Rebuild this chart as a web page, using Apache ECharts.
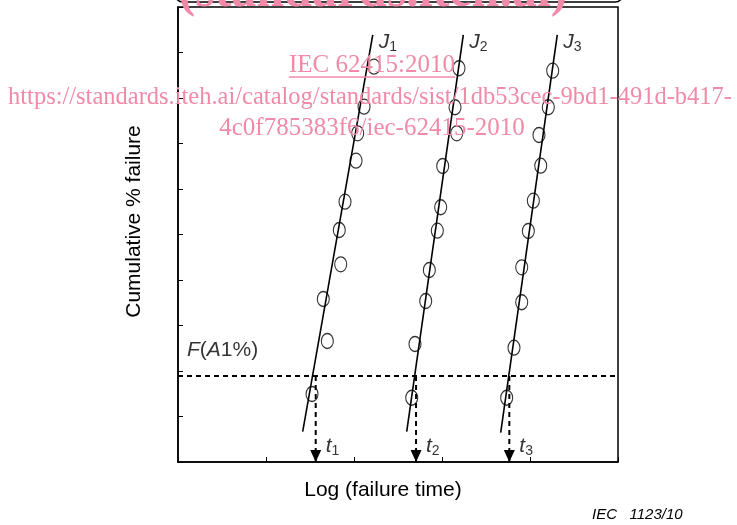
<!DOCTYPE html>
<html>
<head>
<meta charset="utf-8">
<script src="https://cdn.jsdelivr.net/npm/echarts@6/dist/echarts.min.js"></script>
<style>
  html, body { margin: 0; padding: 0; background: #fff; }
  #chart { width: 737px; height: 525px; }
</style>
</head>
<body>
<div id="chart"></div>
<script>
// axis ranges (ticks only, no numbers shown)
const xRange = [0, 5]
const yRange = [0, 10]

// fitted lines J1..J3: [bottom, top] end points
const lineNames = ['1', '2', '3']
const lineEnds = [
  [[1.417, 0.666], [2.213, 9.385]],
  [[2.599, 0.666], [3.242, 9.385]],
  [[3.667, 0.644], [4.310, 9.385]]
]

// observed points for each group
const j1Points = [[2.227, 8.688], [2.114, 7.809], [2.042, 7.224], [2.023, 6.622], [1.898, 5.721],
  [1.833, 5.099], [1.849, 4.345], [1.651, 3.582], [1.697, 2.659], [1.523, 1.495]]
const j2Points = [[3.193, 8.653], [3.148, 7.796], [3.167, 7.224], [3.008, 6.505], [2.985, 5.598],
  [2.947, 5.084], [2.856, 4.220], [2.815, 3.538], [2.693, 2.593], [2.656, 1.413]]
const j3Points = [[4.258, 8.600], [4.208, 7.796], [4.102, 7.187], [4.122, 6.512], [4.038, 5.743],
  [3.981, 5.077], [3.906, 4.279], [3.906, 3.510], [3.818, 2.512], [3.735, 1.413]]

// F(A1%) level and the times t1..t3 read at it
const fLevel = 1.89
const tTimes = [1.565, 2.705, 3.765]

const pink = '#f08aa8'
const chart = echarts.init(document.getElementById('chart'))

const series = []

// fitted lines
lineEnds.forEach((ends, i) => {
  series.push({
    name: 'J' + lineNames[i],
    type: 'line',
    data: ends,
    symbol: 'none',
    lineStyle: { color: '#000', width: 1.6 },
    z: 3,
    silent: true
  })
})

// points
;[j1Points, j2Points, j3Points].forEach((pts, i) => {
  series.push({
    name: 'pts' + (i + 1),
    type: 'scatter',
    data: pts,
    symbol: 'circle',
    symbolSize: [12, 15],
    itemStyle: { color: 'rgba(0,0,0,0)', borderColor: '#000', borderWidth: 1.2 },
    z: 4
  })
})

// dashed F(A1%) level
series.push({
  type: 'line',
  data: [[xRange[0], fLevel], [xRange[1], fLevel]],
  symbol: 'none',
  lineStyle: { color: '#000', width: 2, type: [5, 4] },
  z: 2
})

// dashed arrows down to the time axis
tTimes.forEach(t => {
  series.push({
    type: 'line',
    data: [
      { value: [t, fLevel], symbol: 'none' },
      { value: [t, 0], symbol: 'triangle', symbolSize: [11, 12], symbolRotate: 180, symbolOffset: [0, -6] }
    ],
    showSymbol: true,
    itemStyle: { color: '#000' },
    lineStyle: { color: '#000', width: 2, type: [5, 4] },
    clip: false,
    z: 2
  })
})

const richText = {
  i: { fontFamily: 'Liberation Sans', fontStyle: 'italic', fontSize: 21, lineHeight: 24, verticalAlign: 'middle', color: '#000' },
  n: { fontFamily: 'Liberation Sans', fontSize: 21, lineHeight: 24, verticalAlign: 'middle', color: '#000' },
  s: { fontFamily: 'Liberation Sans', fontSize: 14, lineHeight: 13, verticalAlign: 'bottom', color: '#000' }
}

// text labels anchored to the data
const labelData = []
lineEnds.forEach((ends, i) => {
  labelData.push({
    value: ends[1],
    label: { formatter: '{i|J}{s|' + lineNames[i] + '}', position: 'right', distance: 6, offset: [0, 7] }
  })
})
tTimes.forEach((t, i) => {
  labelData.push({
    value: [t, 0],
    label: { formatter: '{i|t}{s|' + (i + 1) + '}', position: 'right', distance: 10, offset: [0, -16] }
  })
})
labelData.push({
  value: [xRange[0], fLevel],
  label: { formatter: '{i|F}{n|(}{i|A}{n|1%)}', position: 'right', distance: 9, offset: [0, -26] }
})
series.push({
  type: 'scatter',
  data: labelData,
  symbolSize: 0,
  label: { show: true, color: '#000', rich: richText },
  silent: true,
  z: 5
})

const option = {
  animation: false,
  grid: {
    left: 178, right: 119, top: 7, bottom: 63,
    show: true, borderColor: '#000', borderWidth: 1.5
  },
  xAxis: {
    type: 'value',
    min: xRange[0], max: xRange[1], interval: 1,
    name: 'Log (failure time)',
    nameLocation: 'middle',
    nameGap: 18,
    nameTextStyle: { fontFamily: 'Liberation Sans', fontSize: 21, color: '#000', padding: [0, 30, 0, 0] },
    axisLine: { lineStyle: { color: '#000', width: 1.5 } },
    axisTick: { inside: true, length: 5, lineStyle: { color: '#000' } },
    axisLabel: { show: false },
    splitLine: { show: false }
  },
  yAxis: {
    type: 'value',
    min: yRange[0], max: yRange[1], interval: 1,
    name: 'Cumulative % failure',
    nameLocation: 'middle',
    nameGap: 33,
    nameTextStyle: { fontFamily: 'Liberation Sans', fontSize: 21, color: '#000', padding: [0, 0, 0, 26] },
    axisLine: { lineStyle: { color: '#000', width: 1.5 } },
    axisTick: { inside: true, length: 5, lineStyle: { color: '#000' } },
    axisLabel: { show: false },
    splitLine: { show: false }
  },
  graphic: [
    {
      type: 'text', z: 100,
      style: { text: 'IEC   1123/10', x: 592, y: 515, fill: '#000',
        font: 'italic 15px "Liberation Sans"', verticalAlign: 'middle' }
    },
    // watermark
    {
      type: 'rect', z: 99,
      shape: { x: 175, y: -40, width: 448, height: 42, r: 8 },
      style: { fill: 'none', stroke: '#000', lineWidth: 1.5 }
    },
    {
      type: 'text', z: 100,
      style: { text: '(standards.iteh.ai)', x: 373, y: -7, fill: pink,
        font: 'bold 50px "Liberation Serif"', align: 'center', verticalAlign: 'middle' }
    },
    {
      type: 'text', z: 100,
      style: { text: 'IEC 62415:2010', x: 372, y: 65, fill: pink,
        font: '25px "Liberation Serif"', align: 'center', verticalAlign: 'middle' }
    },
    {
      type: 'line', z: 100,
      shape: { x1: 289, y1: 77, x2: 455, y2: 77 },
      style: { stroke: pink, lineWidth: 1.5 }
    },
    {
      type: 'text', z: 100,
      style: { text: 'https://standards.iteh.ai/catalog/standards/sist/1db53cec-9bd1-491d-b417-', x: 370, y: 98, fill: pink,
        font: '24.5px "Liberation Serif"', align: 'center', verticalAlign: 'middle' }
    },
    {
      type: 'text', z: 100,
      style: { text: '4c0f785383f6/iec-62415-2010', x: 372, y: 128, fill: pink,
        font: '25px "Liberation Serif"', align: 'center', verticalAlign: 'middle' }
    }
  ],
  series: series
}

chart.setOption(option)
</script>
</body>
</html>
